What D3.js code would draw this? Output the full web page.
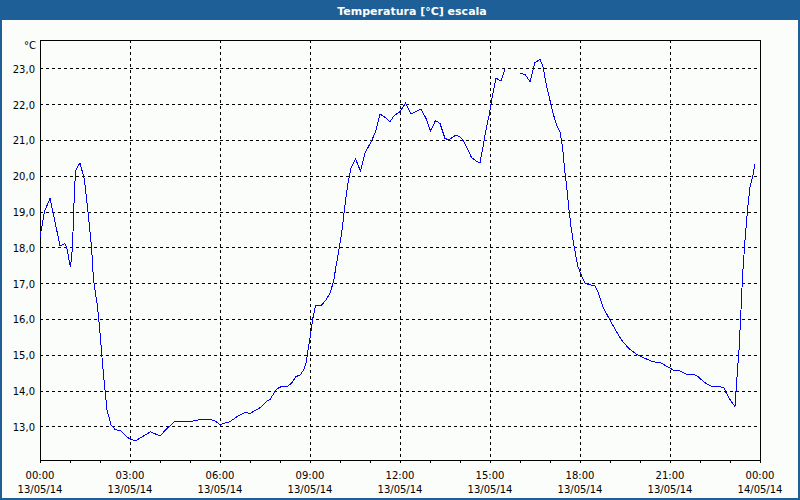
<!DOCTYPE html>
<html><head><meta charset="utf-8">
<script src="https://cdn.jsdelivr.net/npm/d3@7"></script>
<style>
html,body{margin:0;padding:0;background:#fbfdfb;}
svg{display:block;}
text{font-family:"DejaVu Sans",Verdana,sans-serif;}
</style></head>
<body>
<script>
const title = "Temperatura [°C] escala";
const unitLabel = "°C";
const day = "13/05/14";
const times = ["00:00","00:09","00:20","00:32","00:40","00:50","00:53","01:01","01:05","01:08","01:11","01:20","01:29","01:36","01:43","01:47","01:55","01:59","02:05","02:10","02:14","02:22","02:31","02:41","02:48","02:55","03:02","03:10","03:21","03:41","04:00","04:14","04:29","04:40","05:00","05:17","05:40","05:50","06:01","06:07","06:20","06:34","06:50","07:00","07:20","07:34","07:40","07:53","08:01","08:13","08:23","08:32","08:40","08:47","08:52","08:56","09:01","09:05","09:11","09:22","09:32","09:40","09:47","09:53","09:59","10:04","10:08","10:12","10:17","10:22","10:31","10:41","10:50","11:04","11:11","11:20","11:30","11:40","11:48","12:00","12:11","12:22","12:32","12:42","12:52","13:01","13:11","13:20","13:30","13:38","13:52","14:01","14:08","14:16","14:23","14:32","14:40","14:46","14:52","14:59","15:05","15:12","15:22","15:30","15:45","16:00","16:10","16:20","16:30","16:40","16:46","16:52","16:59","17:07","17:13","17:20","17:25","17:29","17:34","17:38","17:42","17:47","17:52","17:56","18:04","18:10","18:20","18:30","18:37","18:47","19:00","19:13","19:26","19:40","19:53","20:10","20:26","20:40","20:53","21:07","21:20","21:34","21:47","21:56","22:07","22:20","22:34","22:47","22:53","23:01","23:10","23:13","23:18","23:22","23:25","23:30","23:35","23:40","23:46","23:50"];
const temps = [18.28,19.0,19.37,18.58,18.04,18.10,18.02,17.44,18.02,19.23,20.14,20.36,19.88,19.0,18.02,17.09,16.34,15.78,14.76,14.01,13.46,13.04,12.90,12.89,12.78,12.69,12.64,12.59,12.68,12.85,12.73,12.94,13.13,13.15,13.13,13.18,13.19,13.15,13.04,13.08,13.13,13.27,13.39,13.36,13.52,13.71,13.75,14.04,14.10,14.10,14.20,14.39,14.43,14.57,14.76,15.13,15.55,15.97,16.37,16.37,16.53,16.72,17.04,17.55,18.02,18.48,18.95,19.41,19.88,20.21,20.47,20.13,20.63,21.00,21.23,21.72,21.63,21.51,21.67,21.79,22.02,21.72,21.79,21.86,21.60,21.25,21.54,21.46,21.04,21.00,21.14,21.07,20.95,20.72,20.51,20.41,20.36,20.81,21.28,21.74,22.25,22.72,22.65,22.98,null,22.86,22.83,22.63,23.16,23.25,23.04,22.58,22.16,21.70,21.42,21.23,20.81,20.21,19.60,19.04,18.58,18.11,17.74,17.46,17.18,17.00,16.95,16.93,16.72,16.30,15.97,15.64,15.35,15.15,15.01,14.90,14.80,14.79,14.68,14.57,14.55,14.45,14.46,14.39,14.25,14.13,14.11,14.09,13.92,13.73,13.55,14.20,15.13,16.25,17.18,18.20,19.04,19.69,20.02,20.33];
const yTicks = [13,14,15,16,17,18,19,20,21,22,23];
const xTickLabels = ["13/05/14 00:00","13/05/14 03:00","13/05/14 06:00","13/05/14 09:00","13/05/14 12:00","13/05/14 15:00","13/05/14 18:00","13/05/14 21:00","14/05/14 00:00"];
const yDomain = [12.06, 23.79];

const W = 800, H = 500;
const L = 40, R = 760, T = 40, B = 460;
const parse = d3.timeParse("%d/%m/%y %H:%M");
const fmtT = d3.timeFormat("%H:%M"), fmtD = d3.timeFormat("%d/%m/%y");
const data = times.map((t,i)=>({t:parse(day+" "+t), v:temps[i]}));
const xTicks = xTickLabels.map(s=>parse(s));

const x = d3.scaleTime().domain([xTicks[0], xTicks[xTicks.length-1]]).range([L,R]);
const y = d3.scaleLinear().domain(yDomain).range([B,T]);

const svg = d3.select("body").append("svg").attr("width",W).attr("height",H);
svg.append("rect").attr("x",0).attr("y",0).attr("width",W).attr("height",H).attr("fill","#1d5f96");
svg.append("rect").attr("x",2).attr("y",20).attr("width",W-4).attr("height",H-22).attr("fill","#fbfdfb");
svg.append("text").attr("x",412).attr("y",14.5).attr("text-anchor","middle")
  .attr("fill","#ffffff").attr("font-weight","bold").attr("font-size","11px").text(title);

const g = svg.append("g").attr("shape-rendering","crispEdges");
g.selectAll(".hg").data(yTicks).enter().append("line")
  .attr("x1",L).attr("x2",R).attr("y1",d=>Math.round(y(d))+0.5).attr("y2",d=>Math.round(y(d))+0.5)
  .attr("stroke","#000").attr("stroke-dasharray","3,3");
g.selectAll(".vg").data(xTicks.slice(1,-1)).enter().append("line")
  .attr("y1",T).attr("y2",B).attr("x1",d=>Math.round(x(d))+0.5).attr("x2",d=>Math.round(x(d))+0.5)
  .attr("stroke","#000").attr("stroke-dasharray","3,3");

const xAxis = d3.axisBottom(x).ticks(d3.timeHour.every(1)).tickSize(3).tickFormat("");
const xa = svg.append("g").attr("transform",`translate(0,${B})`).call(xAxis);
xa.select(".domain").remove();
xa.selectAll("line").attr("stroke","#000").attr("shape-rendering","crispEdges");
const lbl = svg.append("g").attr("font-size","10px").attr("fill","#000").attr("text-anchor","middle");
xTicks.forEach(d=>{
  lbl.append("text").attr("x",x(d)).attr("y",479).attr("fill","#000").text(fmtT(d));
  lbl.append("text").attr("x",x(d)).attr("y",493).attr("fill","#000").text(fmtD(d));
});

const yAxis = d3.axisLeft(y).tickValues(yTicks).tickSize(0).tickPadding(5)
  .tickFormat(d=>d3.format(".1f")(d).replace(".",","));
const ya = svg.append("g").attr("transform",`translate(${L},0)`).call(yAxis);
ya.select(".domain").remove();
ya.selectAll("text").attr("font-size","10px").attr("font-family","DejaVu Sans").attr("fill","#000").attr("dy","0.4em");
svg.append("text").attr("x",36).attr("y",49).attr("text-anchor","end").attr("font-size","10px").attr("fill","#000").text(unitLabel);

svg.append("rect").attr("x",L+0.5).attr("y",T+0.5).attr("width",R-L).attr("height",B-T)
  .attr("fill","none").attr("stroke","#000").attr("shape-rendering","crispEdges");

const line = d3.line().defined(d=>d.v!==null).x(d=>x(d.t)).y(d=>y(d.v));
svg.append("path").datum(data).attr("d",line).attr("fill","none").attr("stroke","#0000ff")
  .attr("stroke-width",1).attr("shape-rendering","crispEdges");
</script>
</body></html>
